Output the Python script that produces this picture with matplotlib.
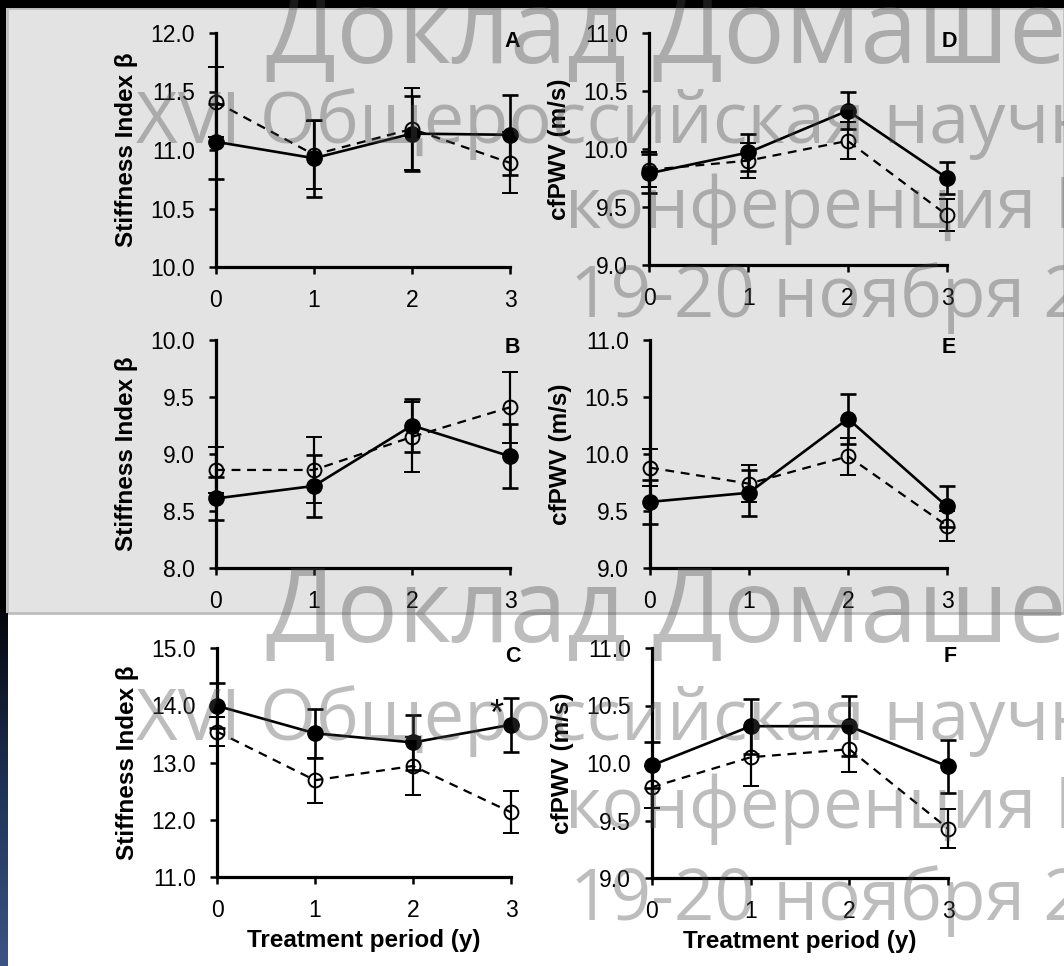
import numpy as np
import matplotlib.pyplot as plt
from matplotlib.patches import Rectangle
from matplotlib.colors import LinearSegmentedColormap

plt.rcParams['font.family'] = ['Liberation Sans', 'DejaVu Sans']

years = [0, 1, 2, 3]

# Stiffness index beta (left column), filled = solid line, open = dashed line
a_filled = [11.07, 10.93, 11.14, 11.13]
a_filled_err = [0.32, 0.33, 0.32, 0.34]
a_open = [11.41, 10.96, 11.18, 10.89]
a_open_err = [0.30, 0.29, 0.35, 0.26]

b_filled = [8.61, 8.72, 9.25, 8.98]
b_filled_err = [0.19, 0.27, 0.23, 0.28]
b_open = [8.86, 8.86, 9.15, 9.41]
b_open_err = [0.20, 0.29, 0.31, 0.31]

c_filled = [13.99, 13.51, 13.35, 13.66]
c_filled_err = [0.39, 0.43, 0.48, 0.47]
c_open = [13.54, 12.69, 12.94, 12.13]
c_open_err = [0.26, 0.39, 0.51, 0.37]

# cfPWV (right column)
d_filled = [9.79, 9.97, 10.33, 9.75]
d_filled_err = [0.17, 0.16, 0.16, 0.14]
d_open = [9.82, 9.90, 10.07, 9.43]
d_open_err = [0.15, 0.15, 0.16, 0.14]

e_filled = [9.58, 9.66, 10.31, 9.54]
e_filled_err = [0.19, 0.20, 0.22, 0.18]
e_open = [9.88, 9.74, 9.98, 9.37]
e_open_err = [0.16, 0.16, 0.16, 0.13]

f_filled = [9.98, 10.32, 10.32, 9.97]
f_filled_err = [0.20, 0.24, 0.26, 0.23]
f_open = [9.79, 10.05, 10.12, 9.43]
f_open_err = [0.18, 0.25, 0.20, 0.17]

beta_label = 'Stiffness Index β'
pwv_label = 'cfPWV (m/s)'
x_label = 'Treatment period (y)'

W, H = 1064, 966
fig = plt.figure(figsize=(W / 100, H / 100), dpi=100)
fig.patch.set_facecolor('white')

# page decorations: gray panel, black frame, blue strip
fig.patches.append(Rectangle((7 / W, 1 - 613 / H), 1 - 7 / W, 605 / H, transform=fig.transFigure,
                             facecolor='#e3e3e3', edgecolor='#bdbdbd', linewidth=2, zorder=-10))
fig.patches.append(Rectangle((0, 1 - 8 / H), 1, 8 / H, transform=fig.transFigure,
                             facecolor='black', edgecolor='none', zorder=-9))
fig.patches.append(Rectangle((0, 1 - 613 / H), 6 / W, 613 / H, transform=fig.transFigure,
                             facecolor='black', edgecolor='none', zorder=-9))
strip = fig.add_axes([0, 0, 8 / W, 353 / H])
navy = LinearSegmentedColormap.from_list('navy', ['#05070d', '#1f3258', '#3a5585'])
strip.imshow(np.linspace(0, 1, 100).reshape(-1, 1), aspect='auto', cmap=navy)
strip.axis('off')


def px_rect(x0, x1, top, bottom):
    return [x0 / W, 1 - bottom / H, (x1 - x0) / W, (bottom - top) / H]


panels = [
    (px_rect(216, 510, 33, 267), a_filled, a_filled_err, a_open, a_open_err, (10, 12), 0.5, beta_label, 'A', False),
    (px_rect(216, 510, 340, 568), b_filled, b_filled_err, b_open, b_open_err, (8, 10), 0.5, beta_label, 'B', False),
    (px_rect(217, 511, 648, 877), c_filled, c_filled_err, c_open, c_open_err, (11, 15), 1.0, beta_label, 'C', True),
    (px_rect(649, 947, 33, 265), d_filled, d_filled_err, d_open, d_open_err, (9, 11), 0.5, pwv_label, 'D', False),
    (px_rect(650, 947, 340, 568), e_filled, e_filled_err, e_open, e_open_err, (9, 11), 0.5, pwv_label, 'E', False),
    (px_rect(652, 948, 648, 878), f_filled, f_filled_err, f_open, f_open_err, (9, 11), 0.5, pwv_label, 'F', True),
]

for rect, yf, yf_err, yo, yo_err, ylim, step, ylab, letter, bottom_row in panels:
    ax = fig.add_axes(rect)
    ax.patch.set_alpha(0)
    ax.errorbar(years, yo, yerr=yo_err, color='black', linestyle=(0, (4, 3)), linewidth=1.6,
                marker='o', markersize=10, markerfacecolor='none', markeredgewidth=1.4,
                elinewidth=1.6, capsize=6, capthick=1.6, clip_on=False, zorder=3)
    ax.errorbar(years, yf, yerr=yf_err, color='black', linestyle='-', linewidth=1.9,
                marker='o', markersize=11, markerfacecolor='black',
                elinewidth=1.9, capsize=6, capthick=1.9, clip_on=False, zorder=4)
    ax.set_xlim(0, 3)
    ax.set_ylim(*ylim)
    ax.set_xticks(years)
    ax.set_yticks(np.arange(ylim[0], ylim[1] + step / 2, step))
    ax.yaxis.set_major_formatter(plt.FormatStrFormatter('%.1f'))
    for side in ['top', 'right']:
        ax.spines[side].set_visible(False)
    for side in ['left', 'bottom']:
        ax.spines[side].set_linewidth(2.3)
    ax.tick_params(axis='both', direction='out', length=5, width=1.8, labelsize=16.5, colors='black')
    ax.tick_params(axis='y', pad=10)
    ax.tick_params(axis='x', pad=11)
    ax.set_ylabel(ylab, fontsize=17.5, fontweight='bold', labelpad=9)
    ax.text(3.02, 0.965, letter, transform=ax.get_xaxis_transform(), ha='center', va='center',
            fontsize=15.5, fontweight='bold')
    if bottom_row:
        ax.set_xlabel(x_label, fontsize=17.5, fontweight='bold', labelpad=5)
    if letter == 'C':
        ax.text(2.85, 13.82, '*', ha='center', va='center', fontsize=26)

# watermark text overlaid on the page
wm_lines = [
    ('Доклад Домашенко', 74, 266, 63, 642),
    ('XVI Общероссийская научная', 52, 136, 143, 740),
    ('конференция России', 51, 565, 228, 828),
    ('19-20 ноября 2015', 51, 570, 317, 920),
]
for txt, size, xp, y_top, y_bottom in wm_lines:
    for yp in [y_top, y_bottom]:
        fig.text(xp / W, 1 - yp / H, txt, fontsize=size, family=['Open Sans', 'DejaVu Sans'],
                 color='#4a4a4a', alpha=0.36, ha='left', va='baseline', zorder=20)

fig.savefig('out.png', dpi=100)
